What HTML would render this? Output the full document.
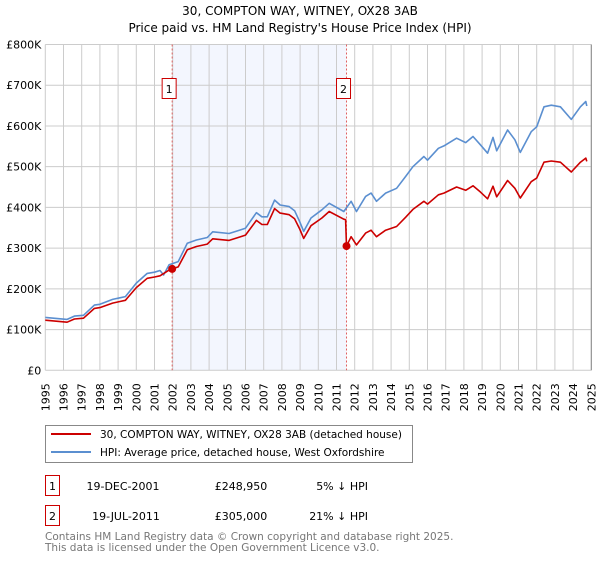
<!DOCTYPE html>
<html><head><meta charset="utf-8"><style>
body{margin:0;background:#fff;font-family:"Liberation Sans","DejaVu Sans",sans-serif}
svg text{font-family:"DejaVu Sans","Liberation Sans",sans-serif}
</style></head><body>
<svg id="c" width="600" height="560" xmlns="http://www.w3.org/2000/svg">
<text x="300" y="15" text-anchor="middle" font-size="12">30, COMPTON WAY, WITNEY, OX28 3AB</text>
<text x="300" y="32" text-anchor="middle" font-size="12">Price paid vs. HM Land Registry's House Price Index (HPI)</text>
<g id="plot"></g>
<rect x="45.5" y="425.5" width="367" height="37" fill="#fff" stroke="#888"/>
<line x1="51" y1="434" x2="91" y2="434" stroke="#cc0000" stroke-width="2"/>
<text x="100" y="438" font-size="10.5">30, COMPTON WAY, WITNEY, OX28 3AB (detached house)</text>
<line x1="51" y1="452" x2="91" y2="452" stroke="#5b8fd0" stroke-width="2"/>
<text x="100" y="456" font-size="10.5">HPI: Average price, detached house, West Oxfordshire</text>
<g>
<rect x="45.5" y="475.5" width="14" height="20" fill="#fff" stroke="#cc0000"/>
<text x="52.5" y="490" text-anchor="middle" font-size="11">1</text>
<text x="123" y="490" text-anchor="middle" font-size="11">19-DEC-2001</text>
<text x="241" y="490" text-anchor="middle" font-size="11">£248,950</text>
<text x="368" y="490" text-anchor="end" font-size="11">5% ↓ HPI</text>
</g>
<g>
<rect x="45.5" y="505.5" width="14" height="20" fill="#fff" stroke="#cc0000"/>
<text x="52.5" y="520" text-anchor="middle" font-size="11">2</text>
<text x="126" y="520" text-anchor="middle" font-size="11">19-JUL-2011</text>
<text x="241" y="520" text-anchor="middle" font-size="11">£305,000</text>
<text x="368" y="520" text-anchor="end" font-size="11">21% ↓ HPI</text>
</g>
<text x="45" y="540" font-size="10.5" fill="#777">Contains HM Land Registry data © Crown copyright and database right 2025.</text>
<text x="45" y="551" font-size="10.5" fill="#777">This data is licensed under the Open Government Licence v3.0.</text>
</svg>
<script>
const hpiYears=[1995.0,1996.2,1996.6,1997.1,1997.7,1998.0,1998.7,1999.1,1999.4,2000.0,2000.6,2001.0,2001.3,2001.5,2001.8,2002.3,2002.8,2003.3,2003.9,2004.2,2005.1,2005.6,2006.0,2006.6,2006.9,2007.2,2007.6,2007.9,2008.4,2008.7,2008.98,2009.2,2009.6,2010.2,2010.6,2011.4,2011.8,2012.1,2012.6,2012.9,2013.2,2013.7,2014.3,2014.8,2015.2,2015.8,2016.0,2016.6,2016.9,2017.6,2018.1,2018.5,2018.9,2019.3,2019.6,2019.8,2020.4,2020.8,2021.1,2021.7,2022.0,2022.4,2022.8,2023.3,2023.9,2024.4,2024.7,2024.75];
const hpiValues=[130,125,133,135,160,162,174,178,181,214,238,241,245,234,259,267,312,320,326,340,336,343,349,387,377,377,418,406,402,392,365,341,374,394,410,390,415,390,427,435,415,435,447,476,500,525,516,545,551,570,559,574,554,533,572,539,590,566,535,586,598,647,651,647,616,647,660,649];
const priceYears=[1995.0,1996.2,1996.6,1997.1,1997.7,1998.0,1998.7,1999.1,1999.4,2000.0,2000.6,2001.0,2001.3,2001.8,2001.97,2002.3,2002.8,2003.3,2003.9,2004.2,2005.1,2005.6,2006.0,2006.6,2006.9,2007.2,2007.6,2007.9,2008.4,2008.7,2008.98,2009.2,2009.6,2010.2,2010.6,2011.4,2011.5,2011.55,2011.8,2012.1,2012.6,2012.9,2013.2,2013.7,2014.3,2014.8,2015.2,2015.8,2016.0,2016.6,2016.9,2017.6,2018.1,2018.5,2018.9,2019.3,2019.6,2019.8,2020.4,2020.8,2021.1,2021.7,2022.0,2022.4,2022.8,2023.3,2023.9,2024.4,2024.7,2024.75];
const priceValues=[123,118,126,128,152,154,165,169,172,203,226,229,232,246,249,254,296,304,310,323,319,326,332,368,358,358,397,386,382,372,347,324,355,374,390,371,370,305,328,308,337,344,328,344,353,376,395,415,408,431,435,450,442,453,438,421,452,426,466,447,423,463,472,511,514,511,487,511,521,513];
const saleYears=[2001.97,2011.55];
const saleValues=[248.95,305];
const saleLabels=["1","2"];
const yTicks=[0,100,200,300,400,500,600,700,800];
const yTickLabels=["£0","£100K","£200K","£300K","£400K","£500K","£600K","£700K","£800K"];
const xTicks=[1995,1996,1997,1998,1999,2000,2001,2002,2003,2004,2005,2006,2007,2008,2009,2010,2011,2012,2013,2014,2015,2016,2017,2018,2019,2020,2021,2022,2023,2024,2025];

const X0=45.3,X1=591.3,Y0=370.3,Y1=44.5;
const xs=y=>X0+(y-1995)/30*(X1-X0);
const ys=v=>Y0-v/800*(Y0-Y1);
const NS="http://www.w3.org/2000/svg";
const g=document.getElementById('plot');
function mk(t,a){const e=document.createElementNS(NS,t);for(const k in a)e.setAttribute(k,a[k]);g.appendChild(e);return e;}

const sh=mk('rect',{x:xs(saleYears[0]),y:Y1,width:xs(saleYears[1])-xs(saleYears[0]),height:Y0-Y1,fill:'#f3f6fe'});


xTicks.forEach(t=>{
 const l=mk('line',{x1:xs(t),x2:xs(t),y1:Y1,y2:Y0,stroke:'#cccccc','stroke-width':1});
 
 
 const tx=mk('text',{x:0,y:0,'font-size':11,'text-anchor':'end',transform:`translate(${xs(t)+4},${Y0+13}) rotate(-90)`});
 tx.textContent=t;
 
 
});
yTicks.forEach((t,i)=>{
 const l=mk('line',{x1:X0,x2:X1,y1:ys(t),y2:ys(t),stroke:'#cccccc','stroke-width':1});
 
 
 const tx=mk('text',{x:X0-4,y:ys(t)+4,'font-size':11,'text-anchor':'end','font-family':'Liberation Sans, sans-serif'});
 tx.textContent=yTickLabels[i];
 
 
});
const ax=mk('line',{x1:X1,x2:X1,y1:Y1,y2:Y0,stroke:'#888','stroke-width':1});


saleYears.forEach((y,i)=>{
 const l=mk('line',{x1:xs(y),x2:xs(y),y1:Y1,y2:Y0,stroke:'#e06060','stroke-width':1,'stroke-dasharray':'2,2'});
 
 
});
function path(xa,va,c,name){
 const p=mk('path',{d:xa.map((x,i)=>(i?'L':'M')+xs(x).toFixed(1)+','+ys(va[i]).toFixed(1)).join(''),fill:'none',stroke:c,'stroke-width':1.6,'stroke-linejoin':'round'});
 
 
}
path(hpiYears,hpiValues,'#5b8fd0','hpi-line');
path(priceYears,priceValues,'#cc0000','price-line');
saleYears.forEach((y,i)=>{
 const c=mk('circle',{cx:xs(y),cy:ys(saleValues[i]),r:4,fill:'#cc0000'});
 
 
 const bx=xs(y)-3;
 const r=mk('rect',{x:bx-7,y:78.5,width:14,height:20,fill:'#fff',stroke:'#cc0000'});
 
 
 const t=mk('text',{x:bx,y:93,'font-size':11,'text-anchor':'middle'});
 t.textContent=saleLabels[i];
 
 
});
</script>
</body></html>
